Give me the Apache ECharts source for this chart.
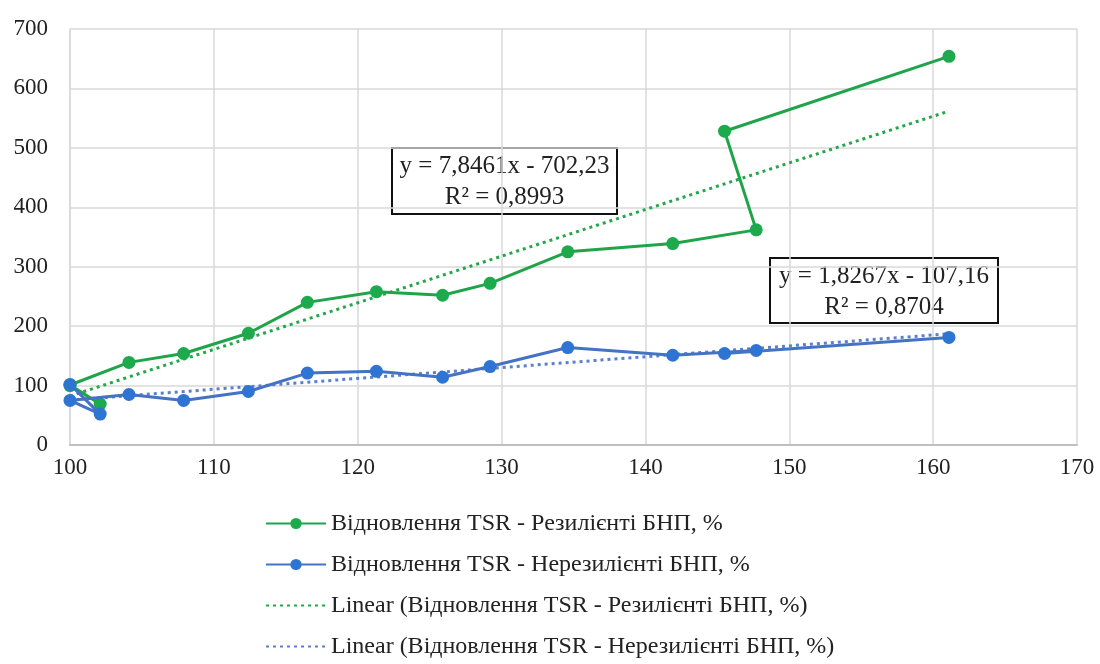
<!DOCTYPE html>
<html>
<head>
<meta charset="utf-8">
<script src="https://cdn.jsdelivr.net/npm/echarts@6/dist/echarts.min.js"></script>
<style>html,body{margin:0;padding:0;background:#fff}#c{width:1100px;height:664px}</style>
</head>
<body>
<div id="c"></div>
<script>
// X values (shared)
const xValues = [100, 102.1, 100, 104.1, 107.9, 112.4, 116.5, 121.3, 125.9, 129.2, 134.6, 141.9, 147.7, 145.5, 161.1];
// Resilient (green)
const greenValues = [100, 69, 101, 139, 154, 188, 240, 258, 252, 272, 325, 339, 362, 528, 654];
// Non-resilient (blue)
const blueValues = [102, 52, 75, 85, 75, 90, 121, 124, 114, 132, 164, 151, 159, 154, 181];
// Trend line coefficients (slope, intercept) and x-range
const greenTrend = { slope: 7.8461, intercept: -702.23, r2: '0,8993', label: 'y = 7,8461x - 702,23' };
const blueTrend = { slope: 1.8267, intercept: -107.16, r2: '0,8704', label: 'y = 1,8267x - 107,16' };
const trendRange = [100, 161.1];
const seriesNames = [
  'Відновлення TSR - Резилієнті БНП, %',
  'Відновлення TSR - Нерезилієнті БНП, %',
  'Linear (Відновлення TSR - Резилієнті БНП, %)',
  'Linear (Відновлення TSR - Нерезилієнті БНП, %)'
];
const xTicks = [100, 110, 120, 130, 140, 150, 160, 170];
const yTicks = [0, 100, 200, 300, 400, 500, 600, 700];

const pair = (xs, ys) => xs.map((x, i) => [x, ys[i]]);
const trend = t => trendRange.map(x => [x, t.slope * x + t.intercept]);

const FONT = '"Liberation Serif", "DejaVu Serif", serif';
const chart = echarts.init(document.getElementById('c'));

function box(left, top, w, h, t) {
  return {
    type: 'group', left: left, top: top,
    children: [
      { type: 'rect', shape: { x: 0, y: 0, width: w, height: h },
        style: { fill: '#fff', stroke: '#111', lineWidth: 2 } },
      { type: 'text', x: w / 2, y: h / 2 + 1,
        style: { text: t.label + '\nR² = ' + t.r2, font: '25px ' + FONT, fill: '#222',
                 align: 'center', verticalAlign: 'middle', lineHeight: 31 } }
    ]
  };
}

chart.setOption({
  animation: false,
  backgroundColor: '#fff',
  grid: { left: 70, right: 23, top: 29, bottom: 219 },
  xAxis: {
    type: 'value', min: xTicks[0], max: xTicks[xTicks.length - 1], interval: 10,
    axisLine: { show: true, lineStyle: { color: '#bfbfbf', width: 2 } },
    axisTick: { show: false },
    axisLabel: { color: '#222', fontFamily: FONT, fontSize: 23, margin: 11 },
    splitLine: { show: true, lineStyle: { color: '#d9d9d9', width: 1.5 } }
  },
  yAxis: {
    type: 'value', min: yTicks[0], max: yTicks[yTicks.length - 1], interval: 100,
    axisLine: { show: true, lineStyle: { color: '#d9d9d9', width: 1.5 } },
    axisTick: { show: false },
    axisLabel: { color: '#222', fontFamily: FONT, fontSize: 23, margin: 22 },
    splitLine: { show: true, lineStyle: { color: '#d9d9d9', width: 1.5 } }
  },
  legend: {
    orient: 'vertical', left: 265, top: 511, padding: 0,
    itemWidth: 60, itemHeight: 14, itemGap: 16,
    textStyle: { fontFamily: FONT, fontSize: 24, color: '#222', lineHeight: 25 },
    data: seriesNames
  },
  series: [
    { name: seriesNames[2], type: 'line', data: trend(greenTrend), symbol: 'none', z: 1,
      lineStyle: { color: '#22A84A', width: 3, type: [3, 4] }, itemStyle: { color: 'rgba(0,0,0,0)' } },
    { name: seriesNames[3], type: 'line', data: trend(blueTrend), symbol: 'none', z: 1,
      lineStyle: { color: '#5B7FD0', width: 3, type: [3, 4] }, itemStyle: { color: 'rgba(0,0,0,0)' } },
    { name: seriesNames[0], type: 'line', data: pair(xValues, greenValues), z: 3,
      symbol: 'circle', symbolSize: 13,
      lineStyle: { color: '#1FA44A', width: 3 }, itemStyle: { color: '#1DAA4C' } },
    { name: seriesNames[1], type: 'line', data: pair(xValues, blueValues), z: 4,
      symbol: 'circle', symbolSize: 13,
      lineStyle: { color: '#4472C4', width: 3 }, itemStyle: { color: '#2E74D2' } }
  ],
  graphic: [
    box(391, 147, 225, 66, greenTrend),
    box(769, 257, 228, 65, blueTrend)
  ]
});
</script>
</body>
</html>
